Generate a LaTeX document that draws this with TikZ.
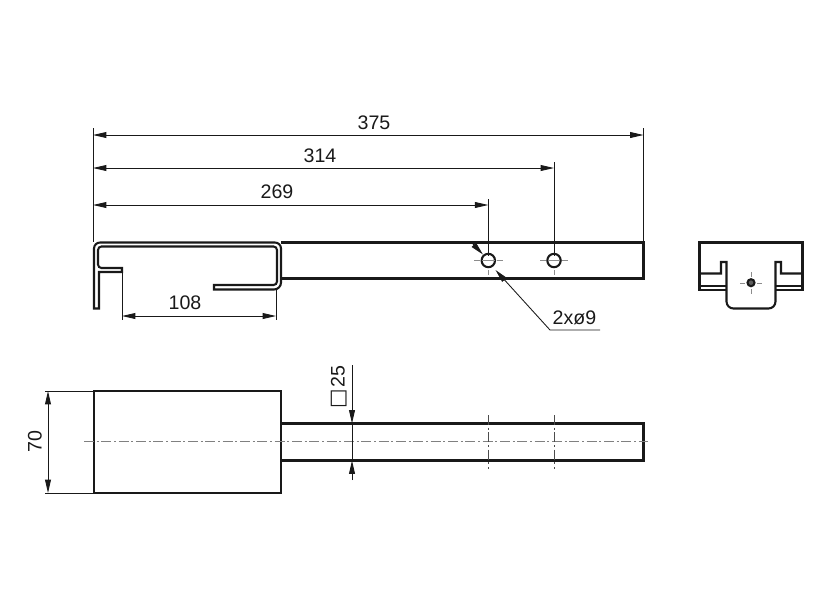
\documentclass[tikz,border=0pt]{standalone}
\usepackage{fontspec}
\setmainfont{Liberation Sans}
\newfontfamily\symbfont{DejaVu Sans}
\usetikzlibrary{arrows.meta}
\newlength{\du}
\setlength{\du}{0.75pt}
\definecolor{inkcolor}{rgb}{0.10, 0.10, 0.10}
\tikzset{
  outline/.style={draw=inkcolor, line width=1.55pt, line join=miter},
  dimline/.style={draw=inkcolor, line width=0.65pt},
  dimarrow/.style={dimline, {Triangle[length=10pt,width=4.4pt]}-{Triangle[length=10pt,width=4.4pt]}},
  tiparrow/.style={dimline, -{Triangle[length=10pt,width=4.4pt]}},
  centreline/.style={draw=black!50, line width=0.6pt, dash pattern=on 7.5pt off 2pt on 1.5pt off 2pt},
  holeline/.style={draw=black!45, line width=0.6pt},
  dimtext/.style={text=inkcolor, font=\fontsize{14.7}{16}\selectfont, inner sep=0pt},
}
\begin{document}
\begin{tikzpicture}
\pgftransformxscale{1.000000}
\pgftransformyscale{-1.000000}
\useasboundingbox (0\du,0\du) rectangle (833\du,604\du);
% front view
\draw[outline] (94\du,308.5\du)--(94\du,308.5\du)[rounded corners=6\du]--(94\du,242.5\du)--(281\du,242.5\du)[rounded corners=7\du]--(281\du,289.5\du)[sharp corners]--(214\du,289.5\du)--(214\du,285\du)[rounded corners=3.5\du]--(277\du,285\du)--(277\du,246.5\du)--(98\du,246.5\du)--(98\du,268\du)[sharp corners]--(122\du,268\du)--(122\du,272\du)--(99\du,272\du)--(99\du,308.5\du)--cycle;
\draw[outline] (281\du,242.5\du)--(643.5\du,242.5\du)--(643.5\du,278.5\du)--(281\du,278.5\du);
\draw[outline] (488.3\du,260.5\du) circle (6.7\du);
\draw[outline] (554\du,260.5\du) circle (6.7\du);
\draw[holeline] (474\du,260.5\du)--(480\du,260.5\du) (482\du,260.5\du)--(495\du,260.5\du) (497\du,260.5\du)--(503\du,260.5\du) (488.3\du,270\du)--(488.3\du,275\du);
\draw[holeline] (540\du,260.5\du)--(546\du,260.5\du) (548\du,260.5\du)--(560\du,260.5\du) (562\du,260.5\du)--(568\du,260.5\du) (554\du,270\du)--(554\du,275\du);
% dimensions of the front view
\draw[dimline] (93\du,128\du)--(93\du,242\du);
\draw[dimline] (643.5\du,128\du)--(643.5\du,242\du);
\draw[dimline] (554\du,162\du)--(554\du,256\du);
\draw[dimline] (488.3\du,199\du)--(488.3\du,256\du);
\draw[dimline] (122\du,272\du)--(122\du,320\du);
\draw[dimline] (276\du,290\du)--(276\du,320\du);
\draw[dimarrow] (93\du,135\du)--(643.5\du,135\du);
\draw[dimarrow] (93\du,168\du)--(554\du,168\du);
\draw[dimarrow] (93\du,205\du)--(488.3\du,205\du);
\draw[dimarrow] (122\du,316\du)--(276\du,316\du);
\node[dimtext] (len375) at (374\du,123\du){375};
\node[dimtext] (len314) at (320\du,156\du){314};
\node[dimtext] (len269) at (277\du,192\du){269};
\node[dimtext] (len108) at (185\du,303\du){108};
% hole leader
\draw[tiparrow] (473\du,244\du)--(483\du,254.5\du);
\draw[tiparrow] (600\du,330\du)--(550\du,330\du)--(495.5\du,270\du);
\node[dimtext] (holes) at (574.5\du,318\du){2xø9};
% end view
\draw[outline] (699.5\du,273.5\du)--(699.5\du,242.5\du)--(802.5\du,242.5\du)--(802.5\du,273.5\du);
\draw[outline] (699.5\du,273.5\du)--(721\du,273.5\du)--(721\du,262\du)--(726.5\du,262\du)[rounded corners=7\du]--(726.5\du,308.5\du)--(775.5\du,308.5\du)[sharp corners]--(775.5\du,262\du)--(781\du,262\du)--(781\du,273.5\du)--(802.5\du,273.5\du);
\draw[outline] (699.5\du,273.5\du)--(699.5\du,290\du)--(726\du,290\du);
\draw[outline] (802.5\du,273.5\du)--(802.5\du,290\du)--(776\du,290\du);
\draw[dimline,line width=0.8pt] (700\du,286\du)--(726\du,286\du) (776\du,286\du)--(802\du,286\du);
\draw[outline,fill=inkcolor!70] (751\du,282.7\du) circle (3.5\du);
\draw[holeline] (740\du,283\du)--(745\du,283\du) (757\du,283\du)--(762\du,283\du) (751\du,272\du)--(751\du,277\du) (751\du,289\du)--(751\du,294\du);
% top view
\draw[outline] (94\du,391\du) rectangle (281\du,493\du);
\draw[outline] (281\du,423.5\du)--(643.5\du,423.5\du)--(643.5\du,460.5\du)--(281\du,460.5\du);
\draw[centreline] (84\du,441.5\du)--(648\du,441.5\du);
\draw[centreline,draw=black!70] (488\du,415\du)--(488\du,469\du);
\draw[centreline,draw=black!70] (554\du,415\du)--(554\du,469\du);
% dimensions of the top view
\draw[dimline] (45\du,391\du)--(94\du,391\du);
\draw[dimline] (45\du,493\du)--(94\du,493\du);
\draw[dimarrow] (48\du,391\du)--(48\du,493\du);
\node[dimtext,rotate=90] (width70) at (35\du,441.5\du){70};
\draw[tiparrow] (352\du,365\du)--(352\du,423.5\du);
\draw[tiparrow] (352\du,480\du)--(352\du,460.5\du);
\draw[dimline] (352\du,423.5\du)--(352\du,460.5\du);
\node[dimtext,rotate=90] (side25) at (339\du,387\du){{\symbfont\fontsize{15.5}{15.5}\selectfont □}\kern1pt 25};
\end{tikzpicture}
\end{document}
